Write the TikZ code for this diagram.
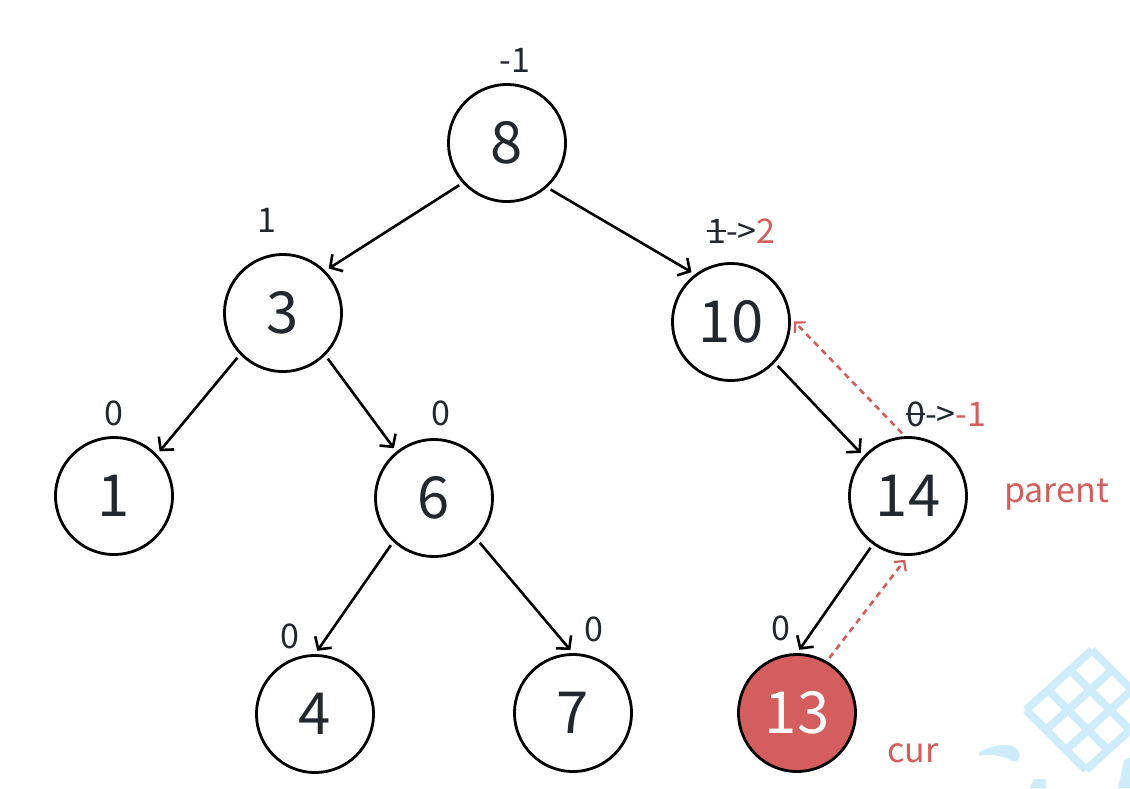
\documentclass[tikz,border=0pt]{standalone}
\usepackage{fontspec}
\setmainfont{Noto Sans CJK SC}
\usetikzlibrary{arrows.meta,calc}
\definecolor{ink}{RGB}{35,39,46}
\definecolor{hl}{RGB}{212,93,93}
\definecolor{wm}{RGB}{206,236,249}
\newcommand\strk[1]{\setbox0\hbox{#1}\rlap{\rule[0.32em]{\wd0}{0.06em}}\box0}
\tikzset{
  tn/.style={circle, draw=black, line width=2.8pt, minimum size=117pt, inner sep=0pt,
    text=ink, font=\fontsize{58}{58}\selectfont},
  curnode/.style={tn, fill=hl, text=white},
  lab/.style={text=ink, font=\fontsize{34}{34}\selectfont, inner sep=0pt, anchor=base},
  redlab/.style={lab, text=hl},
  edge/.style={draw=black, line width=2.6pt, shorten >=4pt, shorten <=4pt,
    -{Straight Barb[length=9pt,width=20pt,line width=2.6pt]}},
  back/.style={draw=hl, line width=2.6pt, dash pattern=on 6pt off 5pt, shorten >=5pt, shorten <=4pt,
    -{Straight Barb[length=7pt,width=15pt,line width=2.2pt]}},
}
\begin{document}
\begin{tikzpicture}[x=1pt,y=-1pt]
\useasboundingbox (0,0) rectangle (1130,788);
% watermark fragment
\begin{scope}
\clip (0,0) rectangle (1130,788);
\coordinate (L) at (1026,710);
\foreach \i in {0,1,2,3} {
  \draw[wm, line width=8pt] ($(L)+\i*(22,-20)$) -- ++(60,60);
  \draw[wm, line width=8pt] ($(L)+\i*(20,20)$) -- ++(66,-60);
}
\fill[wm] (979,752) .. controls (995,744) and (1012,742) .. (1018,750) .. controls (1022,758) and (1018,763) .. (1012,761) .. controls (1002,755) and (990,754) .. (979,756) -- cycle;
\fill[wm] (1030,788) -- (1034,779) -- (1046,779) -- (1046,788) -- cycle;
\fill[wm] (1118,788) -- (1124,760) -- (1130,758) -- (1130,788) -- cycle;
\end{scope}
% nodes
\node[tn] (n8) at (507,143) {8};
\node[tn] (n3) at (283,313) {3};
\node[tn] (n10) at (731,322) {10};
\node[tn] (n1) at (114,496) {1};
\node[tn] (n6) at (434,498) {6};
\node[tn] (n14) at (908,496) {14};
\node[tn] (n4) at (315,714) {4};
\node[tn] (n7) at (573,713) {7};
\node[curnode] (n13) at (797,713) {13};
% edges
\draw[edge] (n8.222) -- (n3.45);
\draw[edge] (n8.312) -- (n10.127);
\draw[edge] (n3.224) -- (n1.44);
\draw[edge] (n3.315) -- (n6.129);
\draw[edge] (n6.227) -- (n4.north);
\draw[edge] (n6.316) -- (n7.north);
\draw[edge] (n10.317) -- (n14.138);
\draw[edge] (n14.234) -- (n13.north);
\draw[back] (n14.93) -- (n10.4);
\draw[back] (n13.60) -- (n14.270);
% balance labels
\node[lab] (b8) at (515,72) {-1};
\node[lab] (b3) at (267,232) {1};
\node[lab] (b1) at (114,425) {0};
\node[lab] (b6) at (441,425) {0};
\node[lab] (b4) at (290,648) {0};
\node[lab] (b7) at (594,641) {0};
\node[lab] (b13) at (781,640) {0};
\node[lab, anchor=base west] (b10) at (707,243) {\strk{1}->\textcolor{hl}{2}};
\node[lab, anchor=base west] (b14) at (906,426) {\strk{0}->\textcolor{hl}{-1}};
\node[redlab, anchor=base west] (parent) at (1004,502) {parent};
\node[redlab, anchor=base west] (cur) at (887,762) {cur};
\end{tikzpicture}
\end{document}
